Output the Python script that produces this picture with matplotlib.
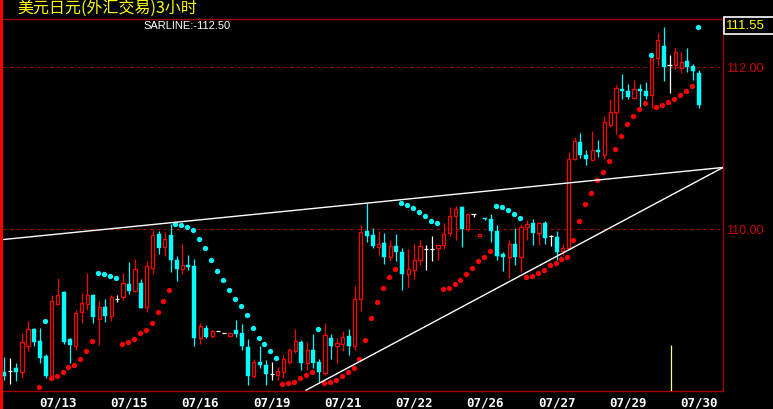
import matplotlib
matplotlib.use("Agg")
import matplotlib.pyplot as plt
from matplotlib.patches import Rectangle
import numpy as np

# 3-hour bars, USD/JPY
opens = [108.24, 108.25, 108.28, 108.24, 108.55, 108.77, 108.62, 108.43, 108.19, 109.07,
         109.22, 108.64, 108.56, 108.97, 109.08, 109.19, 108.89, 109.04, 108.93, 109.14,
         109.16, 109.32, 109.24, 109.33, 109.04, 109.52, 109.94, 109.78, 109.93, 109.62,
         109.51, 109.56, 109.54, 108.65, 108.78, 108.68, 108.74, 108.72, 108.68, 108.75,
         108.72, 108.54, 108.19, 108.36, 108.32, 108.21, 108.20, 108.24, 108.36, 108.50,
         108.60, 108.34, 108.51, 108.36, 108.22, 108.65, 108.56, 108.58, 108.68, 108.55,
         109.13, 109.98, 109.93, 109.78, 109.83, 109.66, 109.79, 109.72, 109.44, 109.49,
         109.62, 109.75, 109.75, 109.77, 109.80, 109.95, 110.16, 110.27, 110.00, 110.19,
         109.91, 110.14, 110.12, 109.97, 109.69, 109.66, 109.81, 109.66, 110.02, 110.07,
         109.95, 110.08, 109.91, 109.90, 109.73, 109.76, 110.87, 111.07, 110.91, 110.85,
         110.98, 110.92, 111.29, 111.45, 111.73, 111.71, 111.62, 111.73, 111.71, 111.65,
         112.11, 112.26, 112.02, 112.02, 111.99, 112.07, 112.01, 111.93]
highs = [108.42, 108.41, 108.35, 108.72, 108.86, 108.78, 108.78, 108.46, 109.19, 109.40,
         109.23, 108.65, 109.00, 109.21, 109.46, 109.20, 109.11, 109.14, 109.19, 109.19,
         109.46, 109.59, 109.63, 109.38, 109.60, 109.99, 109.97, 109.96, 110.06, 109.67,
         109.81, 109.68, 109.63, 108.84, 108.82, 108.75, 108.74, 108.72, 108.72, 108.88,
         108.83, 108.64, 108.40, 108.56, 108.38, 108.36, 108.30, 108.44, 108.53, 108.77,
         108.63, 108.60, 108.70, 108.39, 108.84, 108.70, 108.65, 108.74, 108.77, 109.30,
         110.05, 110.32, 110.01, 109.97, 109.95, 109.87, 109.94, 109.76, 109.75, 109.81,
         109.87, 109.80, 109.91, 109.80, 110.08, 110.27, 110.28, 110.28, 110.19, 110.19,
         109.94, 110.14, 110.18, 110.05, 109.72, 109.86, 110.01, 110.06, 110.11, 110.12,
         110.09, 110.10, 109.93, 109.98, 109.82, 110.95, 111.13, 111.19, 110.97, 111.21,
         111.10, 111.40, 111.60, 111.78, 111.91, 111.79, 111.84, 111.79, 111.81, 112.13,
         112.42, 112.50, 112.15, 112.24, 112.19, 112.23, 112.04, 111.96]
lows = [108.14, 108.09, 108.12, 108.16, 108.50, 108.55, 108.35, 108.16, 108.16, 109.06,
        108.58, 108.35, 108.51, 108.84, 109.00, 108.84, 108.57, 108.85, 108.86, 109.10,
        109.12, 109.20, 109.22, 109.03, 108.98, 109.44, 109.69, 109.67, 109.47, 109.36,
        109.44, 109.49, 108.55, 108.58, 108.66, 108.66, 108.74, 108.72, 108.68, 108.67,
        108.51, 108.07, 108.16, 108.28, 108.07, 108.13, 108.14, 108.16, 108.33, 108.47,
        108.26, 108.26, 108.29, 108.11, 108.20, 108.40, 108.35, 108.50, 108.44, 108.51,
        108.99, 109.84, 109.76, 109.68, 109.57, 109.60, 109.61, 109.25, 109.28, 109.38,
        109.56, 109.50, 109.61, 109.62, 109.75, 109.91, 109.86, 109.78, 109.97, 110.15,
        109.91, 110.11, 109.84, 109.62, 109.48, 109.40, 109.55, 109.47, 109.87, 109.80,
        109.80, 109.82, 109.79, 109.62, 109.68, 109.75, 110.85, 110.88, 110.79, 110.85,
        110.89, 110.86, 111.26, 111.17, 111.60, 111.60, 111.60, 111.48, 111.60, 111.49,
        112.02, 111.83, 111.68, 111.98, 111.93, 111.94, 111.84, 111.49]
closes = [108.19, 108.25, 108.24, 108.60, 108.77, 108.60, 108.41, 108.19, 109.11, 109.19,
          108.61, 108.57, 108.96, 109.09, 109.19, 108.91, 109.04, 108.93, 109.16, 109.14,
          109.33, 109.23, 109.51, 109.03, 109.54, 109.93, 109.76, 109.88, 109.62, 109.51,
          109.56, 109.53, 108.65, 108.80, 108.67, 108.74, 108.74, 108.72, 108.72, 108.70,
          108.55, 108.19, 108.36, 108.32, 108.21, 108.21, 108.25, 108.40, 108.51, 108.62,
          108.35, 108.51, 108.35, 108.23, 108.69, 108.55, 108.59, 108.67, 108.56, 109.13,
          109.96, 109.91, 109.79, 109.81, 109.66, 109.79, 109.72, 109.44, 109.51, 109.62,
          109.79, 109.75, 109.75, 109.80, 109.94, 110.16, 110.25, 110.00, 110.19, 110.19,
          109.94, 110.12, 109.97, 109.67, 109.66, 109.81, 109.66, 110.02, 110.06, 109.95,
          110.07, 109.89, 109.91, 109.72, 109.77, 110.86, 111.09, 110.91, 110.86, 110.98,
          110.95, 111.32, 111.44, 111.74, 111.70, 111.63, 111.73, 111.70, 111.64, 112.12,
          112.33, 112.00, 112.02, 112.18, 112.06, 112.00, 111.95, 111.53]

# SAR points below price (up trend, red) and above price (down trend, cyan)
sar_up_idx = [6, 8, 9, 10, 11, 12, 13, 14, 15,
              20, 21, 22, 23, 24, 25, 26, 27, 28,
              47, 48, 49, 50, 51, 52,
              54, 55, 56, 57, 58, 59, 60, 61, 62, 63, 64, 65, 66,
              74, 75, 76, 77, 78, 79, 80, 81, 82,
              88, 89, 90, 91, 92, 93, 94, 95, 96, 97, 98, 99, 100, 101, 102, 103,
              104, 105, 106, 107, 108,
              110, 111, 112, 113, 114, 115, 116]
sar_up_val = [108.05, 108.16, 108.19, 108.24, 108.30, 108.32, 108.39, 108.49, 108.62,
              108.58, 108.61, 108.645, 108.71, 108.75, 108.84, 108.98, 109.11, 109.25,
              108.09, 108.10, 108.11, 108.16, 108.20, 108.24,
              108.10, 108.11, 108.14, 108.18, 108.23, 108.28, 108.40, 108.63, 108.90,
              109.10, 109.27, 109.41, 109.51,
              109.26, 109.27, 109.32, 109.37, 109.45, 109.52, 109.61, 109.66, 109.73,
              109.41, 109.42, 109.46, 109.50, 109.55, 109.58, 109.63, 109.66, 109.87,
              110.10, 110.31, 110.45, 110.60, 110.71, 110.84, 110.99,
              111.15, 111.30, 111.40, 111.48, 111.55,
              111.51, 111.53, 111.57, 111.61, 111.66, 111.71, 111.77]
sar_down_idx = [7, 16, 17, 18, 19,
                29, 30, 31, 32, 33, 34, 35, 36, 37, 38, 39, 40, 41, 42, 43, 44, 45, 46,
                53, 67, 68, 69, 70, 71, 72, 73, 83, 84, 85, 86, 87, 109, 117]
sar_down_val = [108.86, 109.46, 109.44, 109.42, 109.39,
                110.06, 110.05, 110.02, 109.99, 109.88, 109.76, 109.62, 109.48, 109.37,
                109.25, 109.14, 109.05, 108.94, 108.78, 108.66, 108.58, 108.49, 108.41,
                108.77, 110.32, 110.30, 110.26, 110.21, 110.16, 110.10, 110.07,
                110.28, 110.27, 110.24, 110.19, 110.14, 112.15, 112.50]

date_idx = [9, 21, 33, 45, 57, 69, 81, 93, 105, 117]
date_labels = ["07/13", "07/15", "07/16", "07/19", "07/21",
               "07/22", "07/26", "07/27", "07/29", "07/30"]
price_ticks = [110.0, 112.0]

# hand-drawn trend lines
upper_line_x = [-0.22, 121.0]
upper_line_y = [109.87, 110.76]
lower_line_x = [50.8, 121.0]
lower_line_y = [108.01, 110.76]

cursor_idx = 112.2
cursor_top = 108.57

title = "美元日元(外汇交易)3小时"
sar_text = "SARLINE:-112.50"
last_price = "111.55"

RED = "#ff0000"
CYAN = "#00ffff"
DARKRED = "#a00000"

W, H = 773, 409
fig = plt.figure(figsize=(W / 100, H / 100), dpi=100, facecolor="black")
ax = fig.add_axes([3 / W, 18 / H, 720 / W, 372 / H], facecolor="black")

o = np.array(opens)
c = np.array(closes)
hi = np.array(highs)
lo = np.array(lows)
idx = np.arange(len(o))
up = c > o
down = c < o
flat = c == o

# wicks
wick_col = np.where(up, RED, np.where(down, CYAN, "#ffffff"))
ax.vlines(idx, lo, hi, colors=list(wick_col), linewidth=0.9, zorder=2)

# bodies
ax.bar(idx[up], (c - o)[up], bottom=o[up], width=0.55, facecolor="black",
       edgecolor=RED, linewidth=0.9, zorder=3)
ax.bar(idx[down], (o - c)[down], bottom=c[down], width=0.68, facecolor=CYAN,
       edgecolor=CYAN, linewidth=0.3, zorder=3)
ax.hlines(c[flat], idx[flat] - 0.35, idx[flat] + 0.35, colors="#ffffff",
          linewidth=0.9, zorder=3)

# SAR dots
ax.plot(np.array(sar_up_idx) - 0.2, sar_up_val, "o", color=RED, markersize=3.8,
        markeredgewidth=0, zorder=4)
ax.plot(np.array(sar_down_idx) - 0.2, sar_down_val, "o", color=CYAN, markersize=3.8,
        markeredgewidth=0, zorder=4)

ax.plot(upper_line_x, upper_line_y, color="white", linewidth=1.0, zorder=5)
ax.plot(lower_line_x, lower_line_y, color="white", linewidth=1.0, zorder=5)

ax.vlines(cursor_idx, 108.0, cursor_top, colors="#ffff80", linewidth=0.9, zorder=5)

ax.set_xlim(-0.22, 121.0)
ax.set_ylim(108.0, 112.593)

ax.yaxis.tick_right()
ax.set_yticks(price_ticks)
ax.set_yticklabels([f"{p:.2f}" for p in price_ticks], color="#c80000",
                   fontsize=9, family=["Liberation Sans Narrow", "Liberation Sans"])
ax.set_xticks(date_idx)
ax.set_xticklabels(date_labels, color="white", fontsize=9, fontweight="bold",
                   family="DejaVu Sans Mono")
ax.tick_params(axis="both", length=0)
ax.tick_params(axis="x", pad=4)
ax.tick_params(axis="y", pad=2)
ax.grid(axis="y", color=DARKRED, linestyle=(0, (3, 3)), linewidth=0.8)
ax.grid(axis="x", visible=False)

for side in ["top", "bottom", "right"]:
    ax.spines[side].set_color(DARKRED)
    ax.spines[side].set_linewidth(1.0)
ax.spines["left"].set_visible(False)

# left red bar
fig.patches.append(Rectangle((0, 0), 3 / W, 1, transform=fig.transFigure,
                             facecolor=RED, edgecolor="none"))
# last price box
fig.patches.append(Rectangle((723.5 / W, 1 - 34 / H), 50 / W, 16.7 / H,
                             transform=fig.transFigure, facecolor="black",
                             edgecolor="white", linewidth=1.2))
fig.text(745 / W, 1 - 25.7 / H, last_price, color="#ffff00", fontsize=9.5,
         ha="center", va="center", family=["Liberation Sans Narrow", "Liberation Sans"])

fig.text(17 / W, 1 - 8.5 / H, title, color="#ffff00", fontsize=11.5,
         ha="left", va="center", family=["Noto Sans CJK SC", "DejaVu Sans"])
fig.text(143 / W, 1 - 26 / H, sar_text, color="white", fontsize=8,
         ha="left", va="center", family="Liberation Sans")

fig.savefig("out.png", dpi=100, facecolor="black")
